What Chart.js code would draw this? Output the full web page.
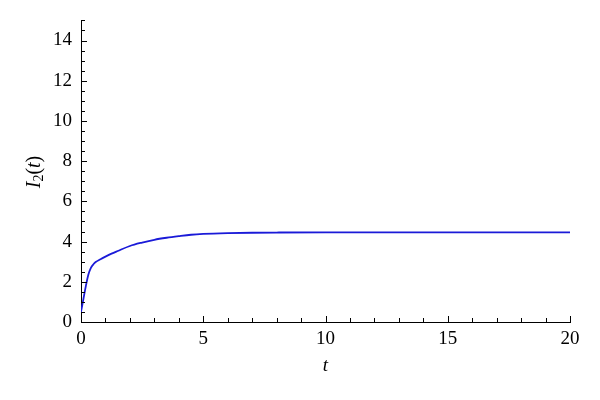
<!DOCTYPE html>
<html>
<head>
<meta charset="utf-8">
<script src="https://cdn.jsdelivr.net/npm/chart.js@4.4.0/dist/chart.umd.min.js"></script>
<style>
  html, body { margin: 0; padding: 0; background: #fff; }
  #wrap { width: 600px; height: 400px; position: relative; }
</style>
</head>
<body>
<div id="wrap"><canvas id="mainChart"></canvas></div>
<script>
// datos
const tValues = [0, 0.1, 0.2, 0.3, 0.4, 0.5, 0.6, 0.8, 1, 1.25, 1.5, 2, 2.5, 3, 3.5, 4, 4.5, 5, 6, 7, 8, 10, 12, 15, 20];
const iValues = [0.5, 1.15, 1.8, 2.35, 2.68, 2.86, 2.98, 3.12, 3.25, 3.4, 3.53, 3.78, 3.95, 4.09, 4.19, 4.27, 4.34, 4.38, 4.42, 4.44, 4.45, 4.46, 4.46, 4.46, 4.46];
const xTicks = [0, 5, 10, 15, 20];
const yTicks = [0, 2, 4, 6, 8, 10, 12, 14];

const serif = '"Liberation Serif", serif';
Chart.defaults.font.family = serif;
Chart.defaults.font.size = 19;
Chart.defaults.color = '#000';

// ticks hacia dentro (mayores y menores) + titulos de ejes
const axisDecor = {
    id: 'axisDecor',
    afterDraw(chart) {
        const ctx = chart.ctx;
        const xs = chart.scales.x, ys = chart.scales.y;
        const area = chart.chartArea;
        ctx.save();
        ctx.strokeStyle = '#000';
        ctx.lineWidth = 1;

        ctx.beginPath();
        for (let v = 0; v <= 20; v += 1) {
            const px = Math.round(xs.getPixelForValue(v)) + 0.5;
            const len = (v % 5 === 0) ? 6 : 4;
            ctx.moveTo(px, area.bottom);
            ctx.lineTo(px, area.bottom - len);
        }
        for (let v = 0; v <= 15; v += 0.5) {
            const py = Math.round(ys.getPixelForValue(v)) + 0.5;
            const len = (v % 2 === 0) ? 6 : 4;
            ctx.moveTo(area.left, py);
            ctx.lineTo(area.left + len, py);
        }
        ctx.stroke();

        // titulo eje x
        ctx.fillStyle = '#000';
        ctx.textAlign = 'center';
        ctx.textBaseline = 'middle';
        ctx.font = 'italic 19px ' + serif;
        ctx.fillText('t', (area.left + area.right) / 2, 366);

        // titulo eje y: I_2(t)
        ctx.translate(35, 172);
        ctx.rotate(-Math.PI / 2);
        const parts = [
            { s: 'I', f: 'italic 20px ' + serif, dy: 0 },
            { s: '2', f: '14px ' + serif, dy: 4 },
            { s: '(', f: '20px ' + serif, dy: 0 },
            { s: 't', f: 'italic 20px ' + serif, dy: 0 },
            { s: ')', f: '20px ' + serif, dy: 0 }
        ];
        let total = 0;
        parts.forEach(p => { ctx.font = p.f; p.w = ctx.measureText(p.s).width; total += p.w; });
        let x = -total / 2;
        ctx.textAlign = 'left';
        parts.forEach(p => {
            ctx.font = p.f;
            ctx.fillText(p.s, x, p.dy);
            x += p.w;
        });
        ctx.restore();
    }
};

new Chart(document.getElementById('mainChart'), {
    type: 'line',
    data: {
        datasets: [{
            data: tValues.map((t, i) => ({ x: t, y: iValues[i] })),
            borderColor: '#1a1ad8',
            borderWidth: 1.8,
            pointRadius: 0,
            cubicInterpolationMode: 'monotone',
            fill: false
        }]
    },
    options: {
        responsive: true,
        maintainAspectRatio: false,
        animation: false,
        layout: { padding: { top: 20, right: 30, left: 0, bottom: 0 } },
        plugins: { legend: { display: false }, tooltip: { enabled: false } },
        scales: {
            x: {
                type: 'linear',
                min: 0, max: 20,
                afterBuildTicks: s => { s.ticks = xTicks.map(v => ({ value: v })); },
                afterFit: s => { s.height = 78; },
                grid: { display: false, drawTicks: false },
                border: { display: true, color: '#000', width: 1 },
                ticks: { padding: 6, maxRotation: 0 }
            },
            y: {
                type: 'linear',
                min: 0, max: 15,
                afterBuildTicks: s => { s.ticks = yTicks.map(v => ({ value: v })); },
                afterFit: s => { s.width = 81; },
                grid: { display: false, drawTicks: false },
                border: { display: true, color: '#000', width: 1 },
                ticks: { padding: 9 }
            }
        }
    },
    plugins: [axisDecor]
});
</script>
</body>
</html>
